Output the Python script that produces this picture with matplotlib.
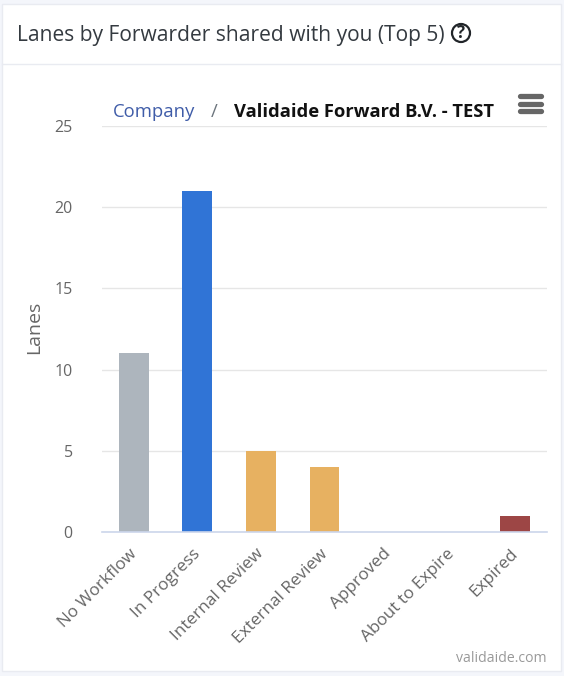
import matplotlib
matplotlib.use('Agg')
from matplotlib import pyplot as plt
import matplotlib.patches as mpatches
from matplotlib.transforms import ScaledTranslation

categories = ['No Workflow', 'In Progress', 'Internal Review', 'External Review',
              'Approved', 'About to Expire', 'Expired']
lanes = [11, 21, 5, 4, 0, 0, 1]
bar_colors = ['#adb5bd', '#3074d6', '#e7b161', '#e7b161', '#e7b161', '#e7b161', '#9d4645']
y_ticks = [0, 5, 10, 15, 20, 25]

W, H = 564, 676
plt.rcParams['font.family'] = ['Open Sans', 'Noto Sans', 'DejaVu Sans']

fig = plt.figure(dpi=100, figsize=(W / 100, H / 100), facecolor='#f4f6fb')

# Full-figure overlay in pixel coordinates for the card and header.
bg = fig.add_axes([0, 0, 1, 1], zorder=0)
bg.set_xlim(0, W)
bg.set_ylim(H, 0)
bg.axis('off')
bg.add_patch(mpatches.Rectangle((2, 4), 559, 667, fc='white', ec='#e9ebf1', lw=1))
bg.plot([2, 561], [63.5, 63.5], color='#e9ebf1', lw=1)
bg.text(17, 35, 'Lanes by Forwarder shared with you (Top 5)', fontsize=15.1,
        color='#343a40', va='center', ha='left')

# Help icon
bg.add_patch(mpatches.Circle((461, 33), 9, fc='none', ec='#212529', lw=1.6))
bg.text(461, 33.5, '?', fontsize=12, fontweight='bold', color='#212529',
        va='center', ha='center')

# Breadcrumb
bg.text(113, 112, 'Company', fontsize=13.3, color='#3f5ca8', va='center', ha='left')
bg.text(214, 112, '/', fontsize=13.3, color='#6c757d', va='center', ha='center')
bg.text(234, 112, 'Validaide Forward B.V. - TEST', fontsize=13.2, fontweight='bold',
        color='#111111', va='center', ha='left', zorder=5)

# Menu icon
for y in (96, 103.5, 111):
    bg.plot([520, 541], [y, y], color='#666666', lw=3.8, solid_capstyle='round')

bg.text(547, 659, 'validaide.com', fontsize=10.1, color='#999999', va='center', ha='right')

# Chart
left, right, top, bottom = 102, 547, 126, 532
ax = fig.add_axes([left / W, 1 - bottom / H, (right - left) / W, (bottom - top) / H],
                  zorder=1)
ax.patch.set_alpha(0)
x = range(len(categories))
ax.bar(x, lanes, width=0.47, color=bar_colors, zorder=3)
ax.set_xlim(-0.5, len(categories) - 0.5)
ax.set_ylim(0, 25)
ax.set_yticks(y_ticks)
ax.grid(axis='y', color='#e6e6e6', lw=1, zorder=0)
ax.set_axisbelow(True)

for side in ('top', 'right', 'left'):
    ax.spines[side].set_visible(False)
ax.spines['bottom'].set_color('#ccd6eb')
ax.spines['bottom'].set_linewidth(1.2)
ax.spines['bottom'].set_zorder(4)

ax.tick_params(axis='y', length=0, pad=21, labelsize=11.5, labelcolor='#666666')
ax.tick_params(axis='x', length=0, pad=10, labelsize=12.3, labelcolor='#666666')
ax.set_xticks(list(x))
ax.set_xticklabels(categories, rotation=45, ha='right', rotation_mode='anchor')

# Nudge the rotated labels left so their ends sit under the bars.
offset = ScaledTranslation(-5 / 100, 0, fig.dpi_scale_trans)
for label in ax.get_xticklabels():
    label.set_transform(label.get_transform() + offset)

# Axis title placed by pixel position, since tick padding is wide.
bg.text(34, 327, 'Lanes', fontsize=14, color='#666666', rotation=90,
        va='center', ha='center')

fig.savefig('out.png', dpi=100, facecolor=fig.get_facecolor())
